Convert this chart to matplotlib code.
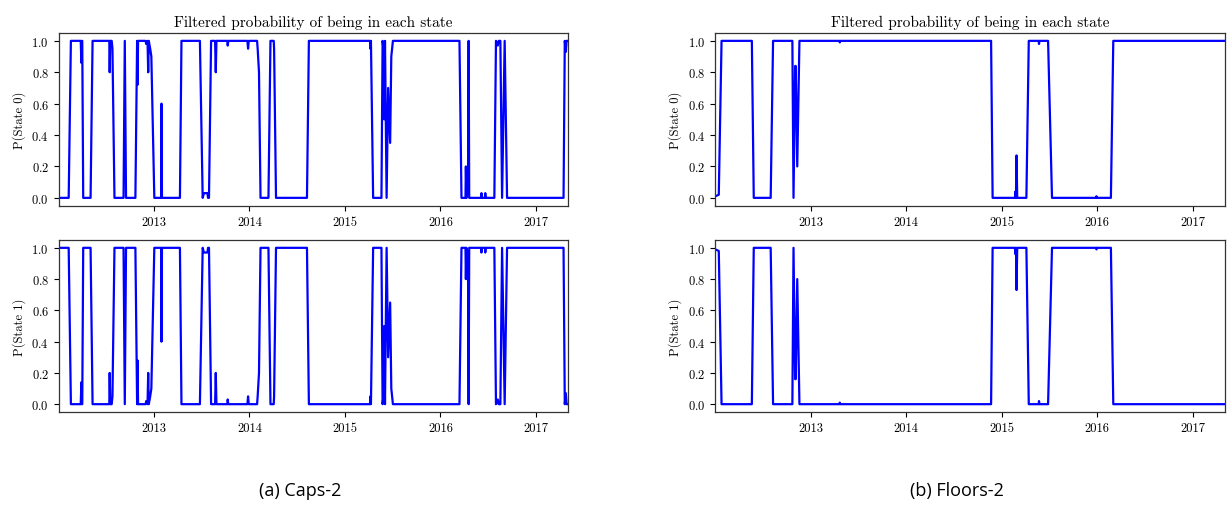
"""
Filtered regime probabilities for the Caps-2 and Floors-2 two-state models.
Values read off the published figure; P(State 1) = 1 - P(State 0).
"""
from datetime import datetime, timedelta

import matplotlib
matplotlib.use("Agg")
import matplotlib.pyplot as plt
import matplotlib.dates as mdates

plt.rcParams["font.family"] = ["cmr10", "DejaVu Serif"]
plt.rcParams["axes.formatter.use_mathtext"] = True

# ── Data: breakpoints (decimal year, P(State 0)) ────────────────────────────
caps_t = [2012.005, 2012.008, 2012.110, 2012.133, 2012.236, 2012.243, 2012.247,
          2012.252, 2012.262, 2012.339, 2012.360, 2012.535, 2012.539, 2012.545,
          2012.560, 2012.568, 2012.589, 2012.684, 2012.697, 2012.710, 2012.808,
          2012.826, 2012.830, 2012.836, 2012.915, 2012.921, 2012.935, 2012.942,
          2012.948, 2012.963, 2012.975, 2013.004, 2013.075, 2013.079, 2013.084,
          2013.272, 2013.288, 2013.481, 2013.510, 2013.523, 2013.560, 2013.566,
          2013.576, 2013.598, 2013.640, 2013.647, 2013.654, 2013.768, 2013.772,
          2013.778, 2013.978, 2013.985, 2013.992, 2014.080, 2014.086, 2014.100,
          2014.116, 2014.199, 2014.220, 2014.254, 2014.258, 2014.278, 2014.602,
          2014.622, 2015.262, 2015.266, 2015.272, 2015.295, 2015.382, 2015.394,
          2015.403, 2015.411, 2015.419, 2015.436, 2015.452, 2015.473, 2015.485,
          2015.502, 2016.199, 2016.220, 2016.262, 2016.266, 2016.272, 2016.288,
          2016.295, 2016.301, 2016.427, 2016.429, 2016.433, 2016.467, 2016.469,
          2016.473, 2016.564, 2016.581, 2016.600, 2016.610, 2016.627, 2016.645,
          2016.672, 2016.697, 2017.286, 2017.299, 2017.310, 2017.318, 2017.335]
caps_p0 = [0.03, 0.00, 0.00, 1.00, 1.00, 0.86, 1.00,
           1.00, 0.00, 0.00, 1.00, 1.00, 0.80, 1.00,
           1.00, 0.95, 0.00, 0.00, 1.00, 0.00, 0.00,
           1.00, 0.72, 1.00, 1.00, 0.98, 1.00, 0.80,
           1.00, 0.95, 0.90, 0.00, 0.00, 0.60, 0.00,
           0.00, 1.00, 1.00, 0.00, 0.03, 0.03, 0.00,
           0.00, 1.00, 1.00, 0.80, 1.00, 1.00, 0.97,
           1.00, 1.00, 0.95, 1.00, 1.00, 0.95, 0.80,
           0.00, 0.00, 1.00, 1.00, 0.95, 0.00, 0.00,
           1.00, 1.00, 0.95, 1.00, 0.00, 0.00, 1.00,
           0.95, 0.50, 1.00, 0.00, 0.70, 0.35, 0.90,
           1.00, 1.00, 0.00, 0.00, 0.20, 0.00, 0.05,
           1.00, 0.00, 0.00, 0.03, 0.00, 0.00, 0.03,
           0.00, 0.00, 1.00, 0.97, 1.00, 1.00, 0.00,
           1.00, 0.00, 0.00, 1.00, 0.93, 1.00, 1.00]

floors_t = [2012.005, 2012.041, 2012.070, 2012.387, 2012.407, 2012.584, 2012.609,
            2012.811, 2012.823, 2012.840, 2012.846, 2012.862, 2012.885, 2013.300,
            2013.305, 2013.310, 2014.889, 2014.905, 2015.140, 2015.144, 2015.150,
            2015.156, 2015.163, 2015.259, 2015.284, 2015.388, 2015.391, 2015.395,
            2015.486, 2015.527, 2015.990, 2015.992, 2015.996, 2016.144, 2016.169,
            2017.335]
floors_p0 = [0.01, 0.02, 1.00, 1.00, 0.00, 0.00, 1.00,
             1.00, 0.00, 0.84, 0.84, 0.20, 1.00, 1.00,
             0.99, 1.00, 1.00, 0.00, 0.00, 0.04, 0.00,
             0.27, 0.00, 0.00, 1.00, 1.00, 0.98, 1.00,
             1.00, 0.00, 0.00, 0.01, 0.00, 0.00, 1.00,
             1.00]

captions = ["(a) Caps-2", "(b) Floors-2"]
TITLE = "Filtered probability of being in each state"
X_START, X_END = 2012.005, 2017.335


def to_date(y):
    year = int(y)
    return datetime(year, 1, 1) + timedelta(days=(y - year) * 365.25)


fig = plt.figure(figsize=(12.27, 5.06), dpi=100)

panels = [(0.0478, caps_t, caps_p0), (0.5830, floors_t, floors_p0)]
for (x0, t, p0), cap in zip(panels, captions):
    dates = [to_date(v) for v in t]
    p1 = [1.0 - v for v in p0]
    ax0 = fig.add_axes([x0, 0.5915, 0.4153, 0.3413])
    ax1 = fig.add_axes([x0, 0.1838, 0.4153, 0.3399])
    for ax, series, lab in ((ax0, p0, "P(State 0)"), (ax1, p1, "P(State 1)")):
        ax.plot(dates, series, color="#0000ff", lw=1.6)
        ax.set_xlim(to_date(X_START), to_date(X_END))
        ax.set_ylim(-0.05, 1.05)
        ax.set_yticks([0.0, 0.2, 0.4, 0.6, 0.8, 1.0])
        ax.xaxis.set_major_locator(mdates.YearLocator())
        ax.xaxis.set_major_formatter(mdates.DateFormatter("%Y"))
        ax.tick_params(labelsize=9, length=3.5, width=0.8)
        ax.set_ylabel(lab, fontsize=9)
        for s in ax.spines.values():
            s.set_color("#333333")
            s.set_linewidth(0.9)
    ax0.set_title(TITLE, fontsize=11, pad=5)
    fig.text(x0 + 0.4153 / 2 - 0.011, 0.03, cap, ha="center", va="center",
             fontsize=13, family=["Open Sans", "DejaVu Sans"])

fig.savefig("out.png", dpi=100)
